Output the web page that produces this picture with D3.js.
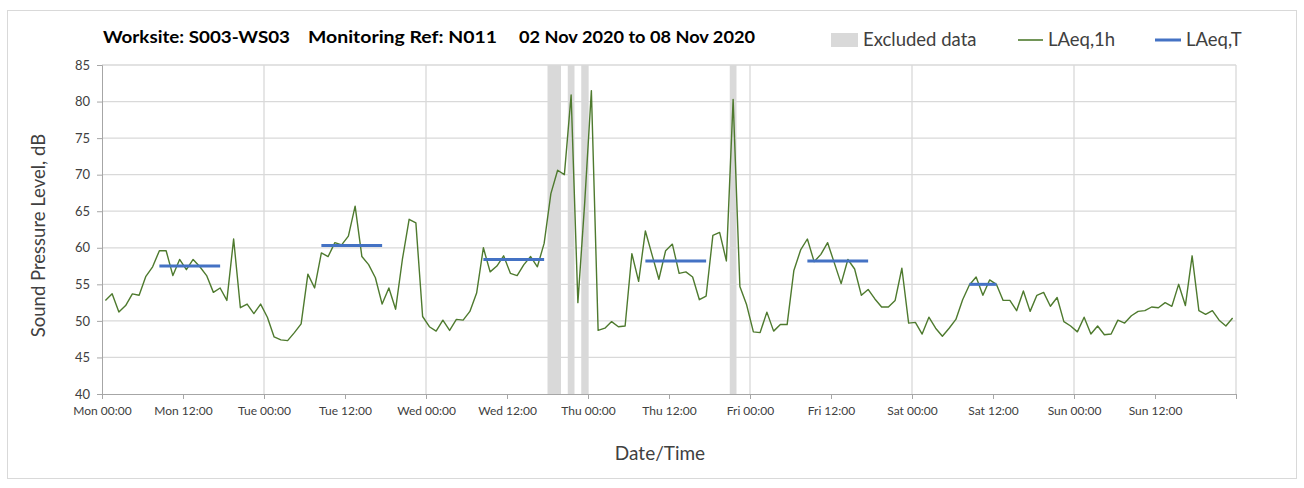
<!DOCTYPE html>
<html>
<head>
<meta charset="utf-8">
<script src="https://cdn.jsdelivr.net/npm/d3@7"></script>
<style>
  html, body { margin: 0; padding: 0; background: #ffffff; }
  svg { display: block; font-family: Lato, "Open Sans", sans-serif; }
</style>
</head>
<body>
<svg id="chart" width="1304" height="488"></svg>
<script>
// ---------- DATA ----------
const titleParts = ["Worksite: S003-WS03", "Monitoring Ref: N011", "02 Nov 2020 to 08 Nov 2020"];
const legendLabels = ["Excluded data", "LAeq,1h", "LAeq,T"];
const xTickLabels = ["Mon 00:00","Mon 12:00","Tue 00:00","Tue 12:00","Wed 00:00","Wed 12:00",
                     "Thu 00:00","Thu 12:00","Fri 00:00","Fri 12:00","Sat 00:00","Sat 12:00",
                     "Sun 00:00","Sun 12:00",""];
const yTicks = [40,45,50,55,60,65,70,75,80,85];
// hourly LAeq,1h values, one per hour starting Mon 00:00
const hourlyValues = [
  52.8,53.7,51.2,52.1,53.7,53.5,56.1,57.4,59.6,59.6,56.2,58.4,57.0,58.4,57.4,56.2,53.9,54.5,52.8,61.2,51.8,52.3,51.0,52.3,
  50.5,47.8,47.4,47.3,48.4,49.6,56.4,54.5,59.3,58.8,60.7,60.4,61.6,65.7,58.8,57.7,55.9,52.3,54.5,51.6,58.4,63.9,63.4,50.6,
  49.2,48.6,50.1,48.7,50.2,50.1,51.3,53.8,60.0,56.7,57.5,58.9,56.5,56.2,57.7,58.8,57.4,60.6,67.4,70.6,70.0,80.9,52.5,66.0,
  81.5,48.7,49.0,49.9,49.2,49.3,59.2,55.4,62.3,59.0,55.7,59.6,60.5,56.5,56.7,56.0,52.9,53.4,61.7,62.1,58.2,80.3,54.7,52.2,
  48.5,48.4,51.2,48.6,49.5,49.5,56.9,59.7,61.2,58.1,59.1,60.7,57.9,55.1,58.4,57.1,53.5,54.3,53.0,51.9,51.9,52.8,57.2,49.7,
  49.8,48.2,50.5,49.0,47.9,49.0,50.2,52.9,54.9,56.0,53.5,55.6,55.0,52.8,52.8,51.4,54.1,51.3,53.5,53.9,52.0,53.2,49.9,49.3,
  48.5,50.5,48.2,49.3,48.1,48.2,50.1,49.7,50.7,51.3,51.4,51.9,51.8,52.5,52.0,55.0,52.1,58.9,51.4,50.9,51.4,50.1,49.3,50.4
];
// LAeq,T period (first hour, last hour, level)
const periodStart = [8, 32, 56, 80, 104, 128];
const periodEnd   = [17, 41, 65, 89, 113, 132];
const periodLevel = [57.5, 60.3, 58.4, 58.2, 58.2, 55.0];
// excluded data bands (hours from Mon 00:00)
const excludedStart = [66, 69, 71, 93];
const excludedEnd   = [68, 70, 72, 94];

// ---------- CHART ----------
const svg = d3.select("#chart");
const plot = {left: 102, right: 1236, top: 65, bottom: 394};

const colLine = "#4e7a2e", colT = "#4472c4", colEx = "#d9d9d9", colGrid = "#d9d9d9", colAxis = "#a6a6a6";

// outer frame
svg.append("rect").attr("x", 7.5).attr("y", 10.5).attr("width", 1289).attr("height", 468)
  .attr("fill", "#fff").attr("stroke", "#d9d9d9").attr("stroke-width", 1);

const x = d3.scaleLinear().domain([0, 168]).range([plot.left, plot.right]);
const y = d3.scaleLinear().domain([40, 85]).range([plot.bottom, plot.top]);

// excluded bands
svg.append("g").selectAll("rect").data(excludedStart.map((s, i) => [s, excludedEnd[i]]))
  .join("rect")
  .attr("x", d => x(d[0])).attr("width", d => x(d[1]) - x(d[0]))
  .attr("y", plot.top).attr("height", plot.bottom - plot.top)
  .attr("fill", colEx);

// horizontal gridlines
svg.append("g").selectAll("line").data(yTicks.filter(v => v > 40)).join("line")
  .attr("x1", plot.left).attr("x2", plot.right)
  .attr("y1", d => y(d)).attr("y2", d => y(d))
  .attr("stroke", colGrid).attr("stroke-width", 1.3);

// vertical gridlines (each day)
svg.append("g").selectAll("line").data(d3.range(24, 169, 24)).join("line")
  .attr("x1", d => x(d)).attr("x2", d => x(d))
  .attr("y1", plot.top).attr("y2", plot.bottom)
  .attr("stroke", colGrid).attr("stroke-width", 1.3);

// axes
const yAxis = d3.axisLeft(y).tickValues(yTicks).tickSize(5).tickPadding(7);
const gy = svg.append("g").attr("transform", `translate(${plot.left},0)`).call(yAxis);
gy.select(".domain").attr("stroke", colAxis);
gy.selectAll(".tick line").attr("stroke", colAxis);
gy.selectAll(".tick text").attr("font-size", 13).attr("fill", "#404040")
  .attr("font-family", "Lato, sans-serif");

const xAxis = d3.axisBottom(x).tickValues(d3.range(0, 169, 12)).tickSize(5).tickPadding(7)
  .tickFormat((d, i) => xTickLabels[i]);
const gx = svg.append("g").attr("transform", `translate(0,${plot.bottom})`).call(xAxis);
gx.select(".domain").attr("stroke", colAxis);
gx.selectAll(".tick line").attr("stroke", colAxis);
gx.selectAll(".tick text").attr("font-size", 12).attr("fill", "#404040")
  .attr("font-family", "Lato, sans-serif");

// hourly line
const line = d3.line().x((d, i) => x(i + 0.5)).y(d => y(d));
svg.append("path").datum(hourlyValues).attr("d", line)
  .attr("fill", "none").attr("stroke", colLine).attr("stroke-width", 1.4)
  .attr("stroke-linejoin", "round");

// LAeq,T segments
svg.append("g").selectAll("line").data(periodStart.map((s, i) => ({s, e: periodEnd[i], v: periodLevel[i]})))
  .join("line")
  .attr("x1", d => x(d.s + 0.5)).attr("x2", d => x(d.e + 0.5))
  .attr("y1", d => y(d.v)).attr("y2", d => y(d.v))
  .attr("stroke", colT).attr("stroke-width", 3);

// title
const titleX = [103, 308, 519];
const titleW = [187, 189, 236];
svg.append("g").selectAll("text").data(titleParts).join("text")
  .attr("x", (d, i) => titleX[i]).attr("y", 43)
  .attr("font-size", 17).attr("font-weight", "bold").attr("fill", "#000")
  .attr("textLength", (d, i) => titleW[i]).attr("lengthAdjust", "spacingAndGlyphs")
  .text(d => d);

// legend
const lg = svg.append("g");
lg.append("rect").attr("x", 831).attr("y", 33).attr("width", 27).attr("height", 14).attr("fill", colEx);
lg.append("line").attr("x1", 1018).attr("x2", 1043).attr("y1", 40).attr("y2", 40)
  .attr("stroke", colLine).attr("stroke-width", 1.6);
lg.append("line").attr("x1", 1155).attr("x2", 1181).attr("y1", 40).attr("y2", 40)
  .attr("stroke", colT).attr("stroke-width", 3);
const legX = [863, 1048, 1186];
lg.selectAll("text").data(legendLabels).join("text")
  .attr("x", (d, i) => legX[i]).attr("y", 46)
  .attr("font-size", 18.5).attr("fill", "#404040").text(d => d);

// axis titles
svg.append("text").attr("transform", `translate(45,${(plot.top + plot.bottom) / 2 + 6}) rotate(-90)`)
  .attr("text-anchor", "middle").attr("font-size", 18.5).attr("fill", "#404040")
  .text("Sound Pressure Level, dB");
svg.append("text").attr("x", 660).attr("y", 460)
  .attr("text-anchor", "middle").attr("font-size", 19).attr("fill", "#404040")
  .text("Date/Time");
</script>
</body>
</html>
